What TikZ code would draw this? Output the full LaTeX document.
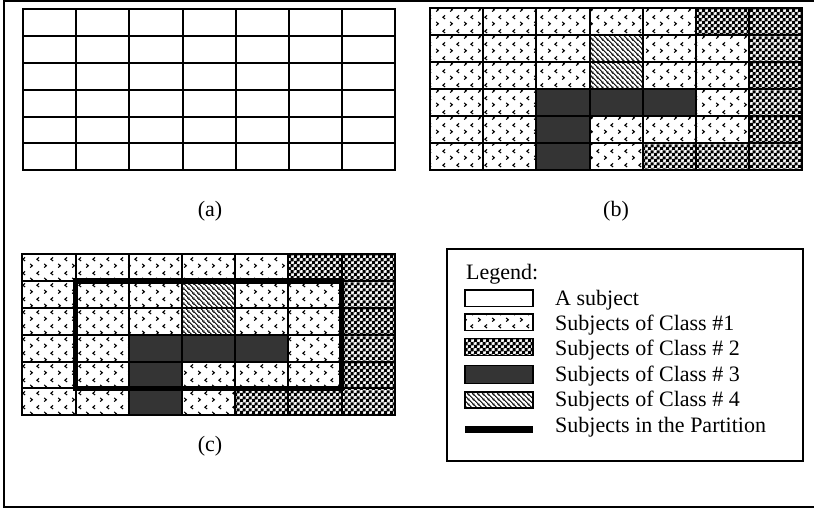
\documentclass[tikz,border=0pt]{standalone}
\usepackage{fontspec}
\setmainfont{Liberation Serif}
\usetikzlibrary{patterns.meta}

\definecolor{classthree}{RGB}{52,52,52}

% fill patterns for the subject classes
\tikzdeclarepattern{
  name=subjdots,
  bounding box={(0pt,0pt) and (14pt,13.4pt)},
  tile size={(14pt,13.4pt)},
  code={
    \draw[line width=1.15pt] (2.3pt,1.5pt) -- (4.6pt,3.35pt) -- (2.3pt,5.2pt);
    \draw[line width=1.15pt] (11.7pt,8.2pt) -- (9.4pt,10.05pt) -- (11.7pt,11.9pt);
  }
}
\tikzdeclarepattern{
  name=checks,
  bounding box={(0pt,0pt) and (6pt,6pt)},
  tile size={(6pt,6pt)},
  code={
    \fill (0pt,0pt) rectangle (3.5pt,3.5pt);
    \fill (3pt,3pt) rectangle (6.5pt,6.5pt);
    \fill (-0.5pt,5.5pt) rectangle (0.5pt,6.5pt);
    \fill (5.5pt,-0.5pt) rectangle (6.5pt,0.5pt);
  }
}
\tikzdeclarepattern{
  name=hatch,
  bounding box={(0pt,0pt) and (4.6pt,4.6pt)},
  tile size={(4.6pt,4.6pt)},
  code={
    \draw[line width=0.95pt] (-1pt,5.6pt) -- (5.6pt,-1pt);
    \draw[line width=0.95pt] (-1pt,1pt) -- (1pt,-1pt);
    \draw[line width=0.95pt] (3.6pt,5.6pt) -- (5.6pt,3.6pt);
  }
}

\newcommand\cw{53.2}
\newcommand\ch{26.9}

\tikzset{
  cellline/.style={line width=2pt, line cap=rect},
  class 0/.style={fill=white},
  class 1/.style={pattern=subjdots},
  class 2/.style={pattern=checks},
  class 3/.style={fill=classthree},
  class 4/.style={pattern=hatch},
  subject class/.style={class #1},
  caption/.style={font=\fontsize{22}{26}\selectfont, inner sep=0pt},
  legendtext/.style={font=\fontsize{22}{26}\selectfont, inner sep=0pt, anchor=base west},
  swatch/.style={draw, line width=1.6pt},
  partition/.style={line width=5.5pt, line join=miter},
}

% 7 x 6 grid of subjects with top-left corner (#1,#2); #3 = 1 fills classes
\newcommand\subjectgrid[3]{%
  \ifnum#3=1
    \foreach \row [count=\r from 0] in
      {{1,1,1,1,1,2,2},{1,1,1,4,1,1,2},{1,1,1,4,1,1,2},
       {1,1,3,3,3,1,2},{1,1,3,1,1,1,2},{1,1,3,1,2,2,2}}{
      \foreach \k [count=\c from 0] in \row {
        \path[subject class/.expanded=\k]
          ({#1+\c*\cw},{#2+\r*\ch}) rectangle ++(\cw,\ch);
      }
    }
  \fi
  \foreach \c in {0,...,7}
    \draw[cellline] ({#1+\c*\cw},#2) -- ++(0,{6*\ch});
  \foreach \r in {0,...,6}
    \draw[cellline] (#1,{#2+\r*\ch}) -- ++({7*\cw},0);
}

\begin{document}
\begin{tikzpicture}[x=1pt,y=-1pt]
  \useasboundingbox (0,0) rectangle (814,510);
  \fill[white] (0,0) rectangle (814,510);

  % outer frame
  \draw[line width=2pt] (816,1.5) -- (4.3,1.5) -- (4.3,507) -- (816,507);

  % (a) empty grid
  \subjectgrid{23}{9}{0}
  \node[caption] (labela) at (210,211) {(a)};

  % (b) classified grid
  \subjectgrid{430}{8.5}{1}
  \node[caption] (labelb) at (616,211) {(b)};

  % (c) classified grid with partition
  \subjectgrid{22.3}{254}{1}
  \draw[partition] ({22.3+\cw},{254+\ch}) rectangle ({22.3+6*\cw},{254+5*\ch});
  \node[caption] (labelc) at (210,446) {(c)};

  % legend
  \draw[line width=2pt] (447.3,249.3) rectangle (802.7,460.7);
  \node[legendtext] (legtitle) at (466,280) {Legend:};
  \draw[swatch, class 0] (465,290) rectangle (533,306.5);
  \node[legendtext] (leg0) at (555,305.7) {A subject};
  \draw[swatch, class 1] (465,314) rectangle (533,330.5);
  \node[legendtext] (leg1) at (555,330.7) {Subjects of Class \#1};
  \draw[swatch, class 2] (465,338.5) rectangle (533,355.5);
  \node[legendtext] (leg2) at (555,356) {Subjects of Class \# 2};
  \draw[swatch, class 3] (465,365.5) rectangle (533,383.5);
  \node[legendtext] (leg3) at (555,381.7) {Subjects of Class \# 3};
  \draw[swatch, class 4] (465,391.8) rectangle (533,408.2);
  \node[legendtext] (leg4) at (555,406.7) {Subjects of Class \# 4};
  \draw[partition, line width=6.5pt] (465,429.3) -- (533,429.3);
  \node[legendtext] (legp) at (555,432.7) {Subjects in the Partition};
\end{tikzpicture}
\end{document}
